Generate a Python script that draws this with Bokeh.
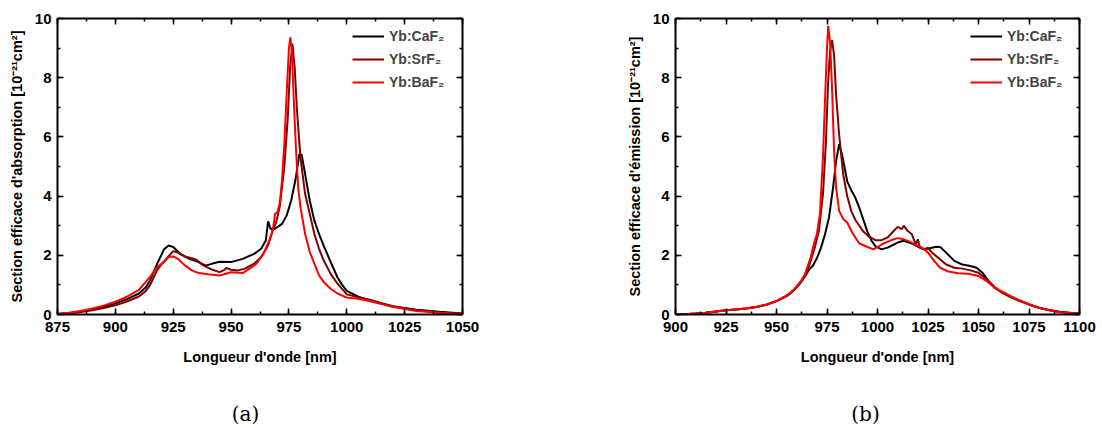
from bokeh.plotting import figure
from bokeh.models import (Range1d, LinearAxis, SingleIntervalTicker, Legend, LegendItem,
                          CustomJSTickFormatter)
from bokeh.core.properties import value
from bokeh.layouts import row, column
from bokeh.embed import file_html
from bokeh.resources import INLINE

# ---------------- data: absorption (a) ----------------
abs_ca_wl = [875, 880, 885, 890, 895, 900, 905, 910, 913, 915, 918, 921, 923, 925, 928, 932, 936, 939, 942, 945,
             950, 955, 960, 963, 965, 966, 967, 968, 970, 972, 974, 976, 978, 979.5, 980.5, 982, 984, 986, 988, 990,
             993, 996, 998, 1000, 1005, 1010, 1020, 1030, 1040, 1050]
abs_ca = [0.02, 0.05, 0.10, 0.17, 0.26, 0.37, 0.52, 0.70, 0.90, 1.15, 1.70, 2.20, 2.33, 2.28, 2.05, 1.88, 1.77, 1.65, 1.72, 1.78,
          1.77, 1.88, 2.05, 2.22, 2.50, 3.15, 2.90, 2.86, 2.95, 3.06, 3.34, 3.85, 4.63, 5.41, 5.40, 4.74, 3.85, 3.17, 2.72, 2.33,
          1.78, 1.25, 1.00, 0.80, 0.60, 0.47, 0.27, 0.16, 0.09, 0.03]

abs_sr_wl = [875, 880, 885, 890, 895, 900, 905, 910, 913, 915, 918, 920, 922, 925, 927, 930, 933, 935, 938, 942,
             945, 947, 948, 950, 953, 956, 960, 963, 966, 968, 969.5, 971, 973, 974.5, 975.5, 976.5, 977.5, 978.5, 980, 982,
             984, 986, 988, 990, 993, 996, 1000, 1005, 1010, 1015, 1020, 1030, 1040, 1050]
abs_sr = [0.02, 0.04, 0.08, 0.14, 0.22, 0.31, 0.44, 0.60, 0.78, 0.99, 1.49, 1.70, 1.88, 2.14, 2.09, 1.96, 1.90, 1.85, 1.66, 1.51,
          1.43, 1.50, 1.57, 1.51, 1.49, 1.55, 1.72, 1.94, 2.33, 2.84, 3.12, 3.62, 4.97, 6.65, 8.33, 9.15, 8.33, 6.87, 5.30, 4.07,
          3.40, 2.72, 2.22, 1.83, 1.38, 1.04, 0.68, 0.58, 0.50, 0.38, 0.28, 0.15, 0.07, 0.02]

abs_ba_wl = [875, 880, 885, 890, 895, 900, 905, 910, 915, 918, 921, 923, 925, 927, 930, 933, 936, 940, 945, 950,
             955, 958, 961, 964, 966.5, 968, 969, 970, 971, 972, 973, 974, 975, 975.6, 976.3, 977, 978, 979, 980, 982,
             984, 986, 988, 990, 993, 996, 1000, 1005, 1010, 1015, 1020, 1030, 1040, 1050]
abs_ba = [0.02, 0.06, 0.12, 0.20, 0.30, 0.43, 0.60, 0.82, 1.27, 1.60, 1.77, 1.94, 1.96, 1.88, 1.66, 1.49, 1.40, 1.36, 1.32, 1.43,
          1.40, 1.55, 1.72, 2.05, 2.50, 2.84, 3.40, 3.45, 3.73, 4.52, 5.75, 7.43, 9.00, 9.36, 8.89, 7.43, 5.64, 4.29, 3.62, 2.72,
          2.11, 1.72, 1.32, 1.10, 0.87, 0.71, 0.57, 0.53, 0.45, 0.35, 0.25, 0.12, 0.06, 0.02]

# ---------------- data: emission (b) ----------------
em_ca_wl = [900, 905, 910, 915, 920, 925, 930, 935, 940, 945, 950, 955, 958, 960, 962, 964, 966, 968, 970, 972,
            974, 976, 978, 979.5, 981, 982.5, 985, 987, 989, 991, 993, 995, 997, 999, 1002, 1005, 1010, 1013, 1017, 1020,
            1023, 1026, 1029, 1031, 1034, 1038, 1042, 1046, 1049, 1052, 1055, 1058, 1062, 1066, 1070, 1075, 1080, 1085, 1090, 1095, 1100]
em_ca = [0.00, 0.01, 0.03, 0.06, 0.10, 0.14, 0.17, 0.20, 0.25, 0.33, 0.45, 0.62, 0.78, 0.92, 1.08, 1.28, 1.50, 1.65, 1.90, 2.25,
         2.70, 3.28, 4.29, 5.18, 5.75, 5.40, 4.50, 4.20, 3.95, 3.60, 3.20, 2.80, 2.50, 2.30, 2.20, 2.26, 2.43, 2.49, 2.40, 2.29,
         2.20, 2.24, 2.29, 2.28, 2.09, 1.81, 1.69, 1.64, 1.58, 1.41, 1.13, 0.90, 0.73, 0.59, 0.47, 0.34, 0.23, 0.15, 0.09, 0.06, 0.03]

em_sr_wl = [900, 905, 910, 915, 920, 925, 930, 935, 940, 945, 950, 955, 958, 960, 962, 964, 966, 967, 969, 971,
            973, 974.5, 975.5, 976.5, 977.5, 978.5, 979.5, 981, 983, 985, 987, 989, 991, 993, 996, 999, 1002, 1005, 1008, 1010,
            1012, 1013, 1015, 1017, 1019, 1020, 1021, 1023, 1025, 1027, 1030, 1034, 1038, 1042, 1046, 1050, 1054, 1058, 1062, 1066,
            1070, 1075, 1080, 1085, 1090, 1095, 1100]
em_sr = [0.00, 0.01, 0.03, 0.06, 0.10, 0.14, 0.17, 0.20, 0.25, 0.33, 0.45, 0.63, 0.79, 0.93, 1.10, 1.30, 1.60, 1.83, 2.27, 2.83,
         4.06, 5.86, 7.76, 8.88, 9.27, 8.77, 7.42, 6.08, 4.74, 4.00, 3.50, 3.20, 3.00, 2.80, 2.62, 2.51, 2.51, 2.60, 2.82, 2.96,
         2.88, 3.00, 2.82, 2.71, 2.37, 2.54, 2.26, 2.20, 2.26, 2.09, 1.92, 1.69, 1.58, 1.55, 1.49, 1.41, 1.19, 0.93, 0.73, 0.59,
         0.47, 0.34, 0.22, 0.14, 0.09, 0.05, 0.03]

em_ba_wl = [900, 905, 910, 915, 920, 925, 930, 935, 940, 945, 950, 955, 958, 960, 962, 964, 965, 967, 968.5, 970,
            971.5, 973, 974, 975, 975.6, 976.5, 977.5, 978.5, 979.5, 981, 983, 985, 987, 989, 991, 995, 998, 1000, 1003, 1006,
            1010, 1013, 1016, 1019, 1022, 1025, 1028, 1031, 1035, 1040, 1045, 1050, 1054, 1058, 1062, 1066, 1070, 1075, 1080, 1085,
            1090, 1095, 1100]
em_ba = [0.00, 0.01, 0.03, 0.06, 0.10, 0.14, 0.17, 0.21, 0.26, 0.34, 0.46, 0.64, 0.80, 0.95, 1.12, 1.35, 1.55, 1.94, 2.39, 2.72,
         3.40, 5.30, 7.20, 9.00, 9.75, 9.22, 7.65, 5.52, 4.29, 3.50, 3.23, 3.11, 2.83, 2.60, 2.40, 2.28, 2.20, 2.28, 2.40, 2.49,
         2.58, 2.54, 2.46, 2.35, 2.26, 2.09, 1.81, 1.58, 1.45, 1.39, 1.38, 1.30, 1.13, 0.90, 0.76, 0.62, 0.49, 0.35, 0.23, 0.14,
         0.08, 0.05, 0.03]

names = ["Yb:CaF\u2082", "Yb:SrF\u2082", "Yb:BaF\u2082"]
colors = ["#000000", "#800000", "#ff0000"]
captions = ["(a)", "(b)"]

FONT = "Liberation Sans"


def style_axis(ax, labels=True):
    ax.axis_line_width = 2
    ax.axis_line_color = "black"
    ax.major_tick_in = 6
    ax.major_tick_out = 0
    ax.minor_tick_in = 3
    ax.minor_tick_out = 0
    ax.major_tick_line_width = 1.5
    ax.minor_tick_line_width = 1.5
    ax.major_tick_line_color = "black"
    ax.minor_tick_line_color = "black"
    if labels:
        ax.major_label_text_font = FONT
        ax.major_label_text_font_style = "bold"
        ax.major_label_text_font_size = "15px"
        ax.major_label_text_color = "black"
        ax.axis_label_text_font = FONT
        ax.axis_label_text_font_style = "bold"
        ax.axis_label_text_font_size = "14.5px"
        ax.axis_label_text_color = "black"
    else:
        ax.formatter = CustomJSTickFormatter(code="return '';")
        ax.major_label_text_font_size = "8px"
        ax.major_label_standoff = 0


def make_fig(xr, xlabel, ylabel, series, width, bl, br):
    p = figure(width=width, height=390, output_backend="svg", toolbar_location=None,
               x_range=Range1d(*xr), y_range=Range1d(0, 10),
               min_border_left=bl, min_border_right=br, min_border_top=18, min_border_bottom=76)
    p.xgrid.visible = False
    p.ygrid.visible = False
    p.outline_line_color = None
    p.background_fill_color = "white"
    p.border_fill_color = "white"

    p.xaxis.ticker = SingleIntervalTicker(interval=25, num_minor_ticks=2)
    p.yaxis.ticker = SingleIntervalTicker(interval=2, num_minor_ticks=2)
    p.xaxis.axis_label = xlabel
    p.yaxis.axis_label = ylabel
    for ax in p.xaxis + p.yaxis:
        style_axis(ax)
    p.xaxis.major_label_standoff = 7
    p.xaxis.axis_label_standoff = 14
    p.yaxis.major_label_standoff = 6
    p.yaxis.axis_label_standoff = 7

    top = LinearAxis(ticker=SingleIntervalTicker(interval=25, num_minor_ticks=2))
    style_axis(top, labels=False)
    p.add_layout(top, "above")
    right = LinearAxis(ticker=SingleIntervalTicker(interval=2, num_minor_ticks=2))
    style_axis(right, labels=False)
    p.add_layout(right, "right")

    items = []
    for (xs, ys), name, col in zip(series, names, colors):
        r = p.line(xs, ys, line_color=col, line_width=2)
        items.append(LegendItem(label=name, renderers=[r]))
    leg = Legend(items=items, location=(295, 222))
    leg.border_line_color = None
    leg.background_fill_alpha = 0
    leg.label_text_font = FONT
    leg.label_text_font_style = "bold"
    leg.label_text_font_size = "14px"
    leg.glyph_width = 32
    leg.glyph_height = 20
    leg.label_height = 20
    leg.label_standoff = 5
    leg.spacing = 3
    leg.padding = 0
    leg.margin = 0
    p.add_layout(leg, "center")
    return p


def make_caption(text, width, cx):
    c = figure(width=width, height=38, output_backend="svg", toolbar_location=None,
               x_range=Range1d(0, width), y_range=Range1d(0, 38),
               x_axis_type=None, y_axis_type=None,
               min_border_left=0, min_border_right=0, min_border_top=0, min_border_bottom=0)
    c.xgrid.visible = False
    c.ygrid.visible = False
    c.outline_line_color = None
    c.text(x=[cx], y=[15], text=[text], text_align="center", text_baseline="middle",
           text_font=value("DejaVu Serif"), text_font_size="20px", text_color="black")
    return c


pa = make_fig((875, 1050), "Longueur d'onde [nm]", "Section efficace d'absorption [10\u207b\u00b2\u00b9cm\u00b2]",
              [(abs_ca_wl, abs_ca), (abs_sr_wl, abs_sr), (abs_ba_wl, abs_ba)], 559, 57, 97)
pb = make_fig((900, 1100), "Longueur d'onde [nm]", "Section efficace d'\u00e9mission [10\u207b\u00b2\u00b9cm\u00b2]",
              [(em_ca_wl, em_ca), (em_sr_wl, em_sr), (em_ba_wl, em_ba)], 541, 116, 21)
ca = make_caption(captions[0], 559, 245)
cb = make_caption(captions[1], 541, 306)

layout = column(row(pa, pb), row(ca, cb))
open("out.html", "w").write(file_html(layout, INLINE))
